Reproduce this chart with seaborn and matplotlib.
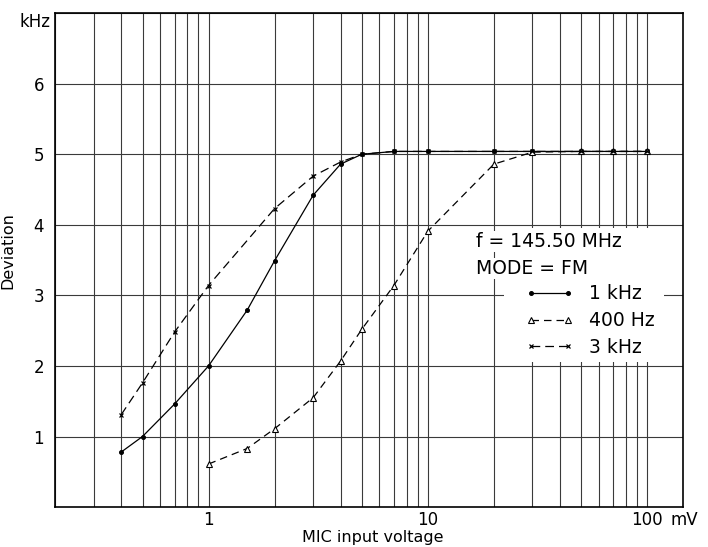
import matplotlib
matplotlib.use("Agg")
import matplotlib.pyplot as plt
import matplotlib.ticker as mticker
from matplotlib.patches import Rectangle
import pandas as pd
import seaborn as sns

# -------------------------------
# Data
# -------------------------------
x_1k = [0.4, 0.5, 0.7, 1, 1.5, 2, 3, 4, 5, 7, 10, 20, 30, 50, 70, 100]
y_1k = [0.78, 1.0, 1.46, 2.0, 2.79, 3.49, 4.42, 4.86, 5.0, 5.04, 5.04, 5.04, 5.04, 5.04, 5.04, 5.04]

x_400 = [1, 1.5, 2, 3, 4, 5, 7, 10, 20, 30, 50, 70, 100]
y_400 = [0.61, 0.83, 1.11, 1.55, 2.07, 2.52, 3.14, 3.91, 4.86, 5.03, 5.04, 5.04, 5.04]

x_3k = [0.4, 0.5, 0.7, 1, 2, 3, 4, 5, 7, 10, 20, 30, 50, 70, 100]
y_3k = [1.31, 1.76, 2.48, 3.14, 4.23, 4.69, 4.89, 5.0, 5.04, 5.04, 5.04, 5.04, 5.04, 5.04, 5.04]

x_ticks = [1, 10, 100]
x_tick_labels = ["1", "10", "100"]
y_ticks = [1, 2, 3, 4, 5, 6]

df_1k = pd.DataFrame({"MIC input voltage": x_1k, "Deviation": y_1k})
df_400 = pd.DataFrame({"MIC input voltage": x_400, "Deviation": y_400})
df_3k = pd.DataFrame({"MIC input voltage": x_3k, "Deviation": y_3k})

# -------------------------------
# Style
# -------------------------------
sns.set_style("white")
plt.rcParams["font.family"] = ["DejaVu Sans"]
plt.rcParams["text.color"] = "black"
plt.rcParams["axes.labelcolor"] = "black"

fig = plt.figure(figsize=(7.08, 5.47), dpi=100)
ax = fig.add_axes([0.078, 0.073, 0.887, 0.903])

# -------------------------------
# Curves
# -------------------------------
sns.lineplot(data=df_1k, x="MIC input voltage", y="Deviation", ax=ax,
             color="black", linewidth=0.9, marker="o", markersize=2.8,
             markeredgecolor="black", markerfacecolor="black",
             label="1 kHz", zorder=3)
sns.lineplot(data=df_400, x="MIC input voltage", y="Deviation", ax=ax,
             color="black", linewidth=0.9, linestyle=(0, (6, 4)),
             marker="^", markersize=5, markeredgewidth=0.8,
             markeredgecolor="black", markerfacecolor="white",
             label="400 Hz", zorder=3)
sns.lineplot(data=df_3k, x="MIC input voltage", y="Deviation", ax=ax,
             color="black", linewidth=0.9, linestyle=(0, (7, 4)),
             marker="x", markersize=3.5, markeredgewidth=0.9,
             markeredgecolor="black",
             label="3 kHz", zorder=3)

# -------------------------------
# Axes
# -------------------------------
ax.set_xscale("log")
ax.set_xlim(0.2, 146)
ax.set_ylim(0, 7)

ax.xaxis.set_major_locator(mticker.FixedLocator(x_ticks))
ax.xaxis.set_major_formatter(mticker.FixedFormatter(x_tick_labels))
ax.xaxis.set_minor_locator(mticker.LogLocator(base=10, subs=range(2, 10), numticks=20))
ax.xaxis.set_minor_formatter(mticker.NullFormatter())
ax.set_yticks(y_ticks)
ax.yaxis.set_minor_locator(mticker.FixedLocator([7]))

ax.tick_params(axis="both", which="both", length=0, labelsize=12, colors="black")
ax.tick_params(axis="x", pad=3)
ax.tick_params(axis="y", pad=8)

ax.grid(True, which="both", color="#3a3a3a", linewidth=0.8)
for s in ax.spines.values():
    s.set_color("black")
    s.set_linewidth(1.2)

ax.set_xlabel("MIC input voltage", fontsize=11.5)
ax.set_ylabel("Deviation", fontsize=11.5)
ax.xaxis.set_label_coords(0.505, -0.046)
ax.yaxis.set_label_coords(-0.063, 0.52)

ax.text(-0.008, 1.0, "kHz", transform=ax.transAxes, ha="right", va="top", fontsize=12)
ax.annotate("mV", xy=(100, 0), xycoords="data", xytext=(17, -3),
            textcoords="offset points", ha="left", va="top", fontsize=12)

# -------------------------------
# Legend block
# -------------------------------
ax.add_patch(Rectangle((0.715, 0.294), 0.255, 0.27, transform=ax.transAxes,
                       facecolor="white", edgecolor="none", zorder=1))
ax.text(0.670, 0.538, "f = 145.50 MHz", transform=ax.transAxes, fontsize=13.5,
        va="center", ha="left", zorder=4,
        bbox=dict(facecolor="white", edgecolor="none", pad=1))
ax.text(0.670, 0.483, "MODE = FM", transform=ax.transAxes, fontsize=13.5,
        va="center", ha="left", zorder=4,
        bbox=dict(facecolor="white", edgecolor="none", pad=1))
ax.legend(loc="upper left", bbox_to_anchor=(0.748, 0.451), frameon=False,
          fontsize=13.5, numpoints=2, handlelength=2.6, handletextpad=0.8,
          labelspacing=0.42, borderpad=0, borderaxespad=0)

fig.savefig("out.png", dpi=100)
